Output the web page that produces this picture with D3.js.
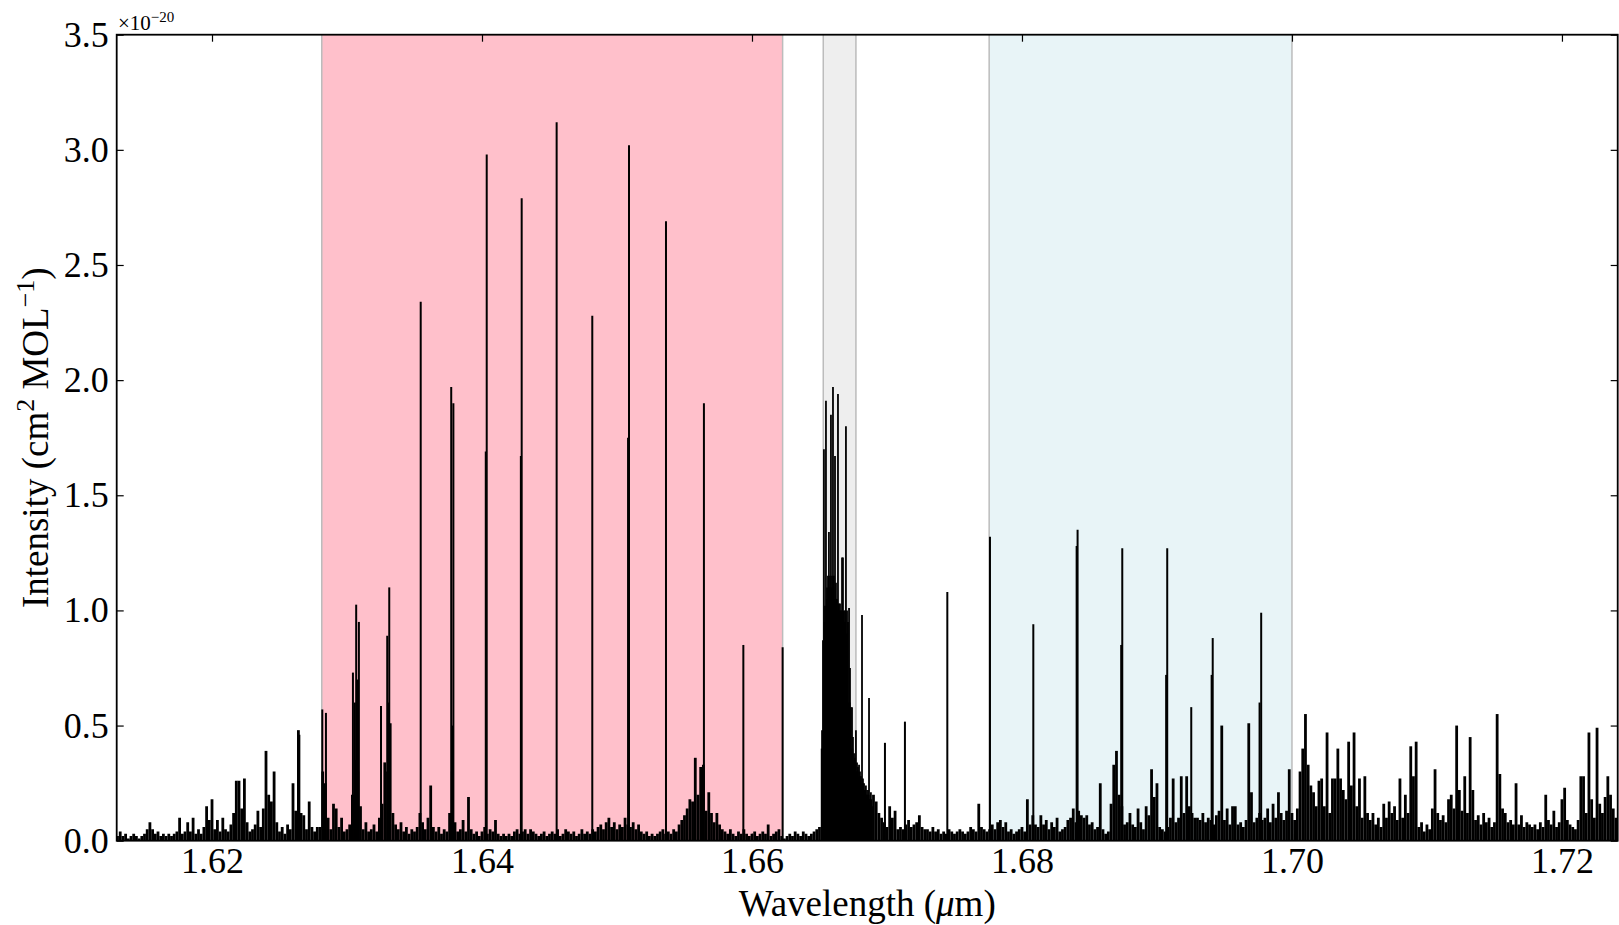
<!DOCTYPE html>
<html>
<head>
<meta charset="utf-8">
<script src="https://cdn.jsdelivr.net/npm/d3@7"></script>
<style>
  html, body { margin: 0; padding: 0; background: #ffffff; }
  svg { display: block; font-family: "Liberation Serif", "Times New Roman", serif; }
</style>
</head>
<body>
<svg id="chart" width="1619" height="925"></svg>
<script>
// ---- Axis ticks ----------------------------------------------------------
const xTickValues = [1.62, 1.64, 1.66, 1.68, 1.70, 1.72];
const yTickValues = [0, 0.5, 1.0, 1.5, 2.0, 2.5, 3.0, 3.5];

// ---- Highlighted spectral windows (micrometres) ---------------------------
const bandStart = [1.62813, 1.66528, 1.67757];
const bandEnd   = [1.66227, 1.66770, 1.70000];

// ---- Strong individual transitions (um, intensity in 1e-20 cm^2/MOL) -------
const lineWavelength = [
  1.62647, 1.62817, 1.62844, 1.63044, 1.63058, 1.63068, 1.63078, 1.63088,
  1.63252, 1.63298, 1.63305, 1.63313, 1.63546, 1.63772, 1.63780, 1.63788,
  1.64028, 1.64035, 1.64288, 1.64294, 1.64553, 1.64817, 1.65082, 1.65089,
  1.65363, 1.65644, 1.65936, 1.66227,
  1.66985, 1.67133, 1.67447, 1.67763, 1.68084, 1.68405, 1.68412, 1.68735,
  1.68743, 1.69068, 1.69076, 1.69254, 1.69405, 1.69413, 1.69760, 1.69772
];
const lineIntensity = [
  0.46, 0.57, 0.555, 0.73, 0.60, 1.025, 0.70, 0.95,
  0.585, 0.89, 0.60, 1.10, 2.34, 1.97, 0.50, 1.90,
  1.69, 2.98, 1.67, 2.79, 3.12, 2.28, 1.75, 3.02,
  2.69, 1.90, 0.85, 0.84,
  0.425, 0.517, 1.08, 1.32, 0.94, 1.28, 1.35, 0.85,
  1.27, 0.72, 1.27, 0.58, 0.72, 0.88, 0.60, 0.99
];

// ---- Dense Q-branch near 1.666 um ------------------------------------------
const qBranchWavelength = [
  1.66519, 1.66526, 1.66533, 1.66541, 1.66548, 1.66556, 1.66563, 1.66570,
  1.66578, 1.66585, 1.66593, 1.66600, 1.66607, 1.66615, 1.66622, 1.66630,
  1.66637, 1.66644, 1.66652, 1.66659, 1.66667, 1.66674, 1.66681, 1.66689,
  1.66696, 1.66704, 1.66711, 1.66719, 1.66726, 1.66733, 1.66741, 1.66748,
  1.66756, 1.66763, 1.66770, 1.66778, 1.66785, 1.66793, 1.66800, 1.66807,
  1.66815, 1.66822, 1.66830, 1.66837, 1.66844, 1.66852, 1.66859, 1.66867,
  1.66874, 1.66881, 1.66889
];
const qBranchIntensity = [
  0.48, 0.87, 1.70, 1.02, 1.91, 1.10, 1.15, 1.34,
  1.15, 1.85, 1.15, 1.97, 1.15, 1.67, 1.12, 1.05,
  1.94, 1.03, 1.03, 1.00, 1.23, 1.23, 1.00, 1.00,
  1.80, 1.00, 0.95, 1.01, 0.75, 0.58, 0.58, 0.45,
  0.38, 0.36, 0.48, 0.34, 0.32, 0.33, 0.30, 0.28,
  0.98, 0.27, 0.25, 0.22, 0.24, 0.20, 0.22, 0.62,
  0.18, 0.21, 0.15
];

// ---- Weak-line background, sampled every 0.0002 um from 1.6130 um ---------
const backgroundStart = 1.6130;
const backgroundStep = 0.0002;
const backgroundIntensity = [
  .02,.04,.02,.03,.01,.02,.03,.02,.01,.02,.03,.05,.08,.05,.03,.04,.02,.03,.02,.03,.02,.03,.04,.10,.03,
  .04,.08,.04,.10,.03,.05,.03,.06,.15,.09,.18,.05,.09,.04,.10,.05,.04,.07,.12,.26,.26,.14,.27,.08,.04,
  .05,.07,.13,.06,.14,.39,.20,.17,.30,.08,.04,.06,.03,.07,.05,.25,.13,.48,.12,.11,.05,.17,.06,.04,.06,
  .06,.30,.25,.10,.05,.16,.14,.06,.10,.04,.05,.07,.20,.35,.30,.15,.05,.08,.04,.05,.07,.04,.10,.16,.34,
  .30,.51,.12,.07,.05,.08,.04,.06,.03,.05,.04,.06,.12,.08,.05,.10,.24,.06,.04,.06,.03,.05,.04,.12,.30,
  .08,.04,.05,.09,.04,.19,.05,.03,.04,.02,.04,.06,.03,.05,.04,.09,.03,.02,.03,.02,.03,.02,.04,.05,.03,
  .04,.05,.03,.05,.04,.03,.02,.03,.04,.02,.03,.04,.03,.05,.02,.03,.05,.04,.03,.04,.02,.03,.05,.03,.04,
  .03,.05,.04,.06,.07,.05,.08,.10,.06,.08,.05,.07,.06,.10,.07,.06,.08,.05,.07,.04,.03,.04,.02,.03,.02,
  .03,.04,.05,.03,.04,.03,.05,.04,.07,.09,.11,.14,.18,.17,.36,.20,.32,.33,.13,.21,.12,.08,.12,.07,.05,
  .04,.03,.05,.03,.02,.04,.03,.05,.03,.02,.03,.04,.02,.03,.04,.03,.07,.02,.03,.04,.05,.02,.01,.02,.03,
  .02,.04,.03,.02,.04,.03,.02,.03,.04,.05,.06,.40,.95,1.05,1.10,1.10,1.05,1.00,1.00,.95,.90,.60,.40,.35,.30,
  .28,.25,.22,.20,.18,.20,.17,.12,.10,.08,.06,.15,.10,.13,.05,.06,.05,.07,.09,.06,.07,.08,.11,.06,.05,
  .05,.04,.06,.04,.05,.03,.04,.03,.05,.04,.03,.04,.05,.04,.03,.04,.06,.05,.04,.16,.06,.05,.04,.05,.07,
  .05,.08,.09,.06,.08,.04,.05,.03,.04,.05,.06,.04,.18,.07,.11,.07,.06,.11,.07,.09,.05,.08,.06,.10,.04,
  .05,.06,.09,.10,.14,.08,.13,.11,.10,.11,.07,.08,.05,.06,.25,.05,.03,.04,.16,.33,.39,.20,.15,.07,.08,
  .12,.07,.06,.14,.08,.05,.15,.11,.31,.19,.25,.06,.05,.04,.06,.10,.27,.08,.10,.28,.12,.28,.15,.12,.10,
  .10,.09,.12,.08,.10,.09,.07,.11,.13,.50,.09,.14,.07,.15,.15,.07,.08,.06,.09,.51,.21,.08,.10,.12,.09,
  .10,.14,.08,.16,.10,.21,.12,.09,.13,.31,.12,.09,.14,.30,.40,.55,.33,.24,.21,.15,.26,.27,.15,.47,.12,
  .27,.27,.40,.27,.22,.18,.43,.24,.47,.15,.27,.10,.28,.12,.09,.12,.07,.10,.06,.16,.10,.17,.12,.15,.09,
  .27,.10,.20,.12,.41,.28,.43,.06,.08,.04,.07,.05,.14,.31,.12,.09,.11,.08,.18,.20,.14,.50,.22,.13,.28,
  .12,.45,.22,.09,.11,.07,.12,.08,.10,.06,.08,.55,.29,.14,.12,.08,.09,.07,.25,.07,.11,.06,.08,.07,.06,
  .07,.05,.08,.06,.20,.09,.07,.13,.06,.08,.18,.23,.09,.07,.06,.05,.09,.28,.28,.12,.47,.18,.10,.49,.16,
  .12,.19,.28,.20,.14,.10
];

// ---- Layout -----------------------------------------------------------------
const plot = { left: 116.7, top: 34.7, right: 1617.7, bottom: 840.7 };
const bandFill = ["#ffc0cb", "#eeeeee", "#e8f4f7"];
const FONT = 36;
const LABEL_FONT = 37;

const svg = d3.select("#chart");

const x = d3.scaleLinear().domain([1.61294, 1.72413]).range([plot.left, plot.right]);
const y = d3.scaleLinear().domain([0, 3.5]).range([plot.bottom, plot.top]);

svg.append("defs").append("clipPath").attr("id", "plot-clip")
  .append("rect")
  .attr("x", plot.left).attr("y", plot.top)
  .attr("width", plot.right - plot.left).attr("height", plot.bottom - plot.top);

const inner = svg.append("g").attr("clip-path", "url(#plot-clip)");

// shaded windows
inner.selectAll("rect.band")
  .data(bandStart.map((s, i) => ({ s, e: bandEnd[i], fill: bandFill[i] })))
  .join("rect")
  .attr("class", "band")
  .attr("x", d => x(d.s))
  .attr("y", y(3.5) - 2)
  .attr("width", d => x(d.e) - x(d.s))
  .attr("height", y(0) - y(3.5) + 4)
  .attr("fill", d => d.fill)
  .attr("stroke", "#bcbcbc")
  .attr("stroke-width", 1.5);

// stick spectrum
function sticks(cls, wl, inten, width) {
  inner.append("g").attr("class", cls)
    .selectAll("line")
    .data(wl.map((w, i) => ({ w, v: inten[i] })))
    .join("line")
    .attr("x1", d => x(d.w)).attr("x2", d => x(d.w))
    .attr("y1", y(0) + 1).attr("y2", d => y(d.v))
    .attr("stroke", "#000")
    .attr("stroke-width", width);
}

const backgroundWavelength = backgroundIntensity.map((_, i) => backgroundStart + i * backgroundStep);
sticks("background", backgroundWavelength, backgroundIntensity, 2.8);
sticks("q-branch", qBranchWavelength, qBranchIntensity, 1.8);
sticks("lines", lineWavelength, lineIntensity, 2.0);

// ---- Axes: ticks pointing inward on all four sides -----------------------
const tickLen = 7;
const xFmt = d3.format(".2f");
const yFmt = d3.format(".1f");

const gBottom = svg.append("g").attr("transform", `translate(0,${plot.bottom})`)
  .call(d3.axisBottom(x).tickValues(xTickValues).tickSize(-tickLen).tickPadding(7).tickFormat(xFmt));
const gTop = svg.append("g").attr("transform", `translate(0,${plot.top})`)
  .call(d3.axisTop(x).tickValues(xTickValues).tickSize(-tickLen).tickFormat(""));
const gLeft = svg.append("g").attr("transform", `translate(${plot.left},0)`)
  .call(d3.axisLeft(y).tickValues(yTickValues).tickSize(-tickLen).tickPadding(8).tickFormat(yFmt));
const gRight = svg.append("g").attr("transform", `translate(${plot.right},0)`)
  .call(d3.axisRight(y).tickValues(yTickValues).tickSize(-tickLen).tickFormat(""));

[gBottom, gTop, gLeft, gRight].forEach(g => {
  g.select(".domain").remove();
  g.selectAll(".tick line").attr("stroke", "#000").attr("stroke-width", 1.2);
  g.selectAll(".tick text")
    .attr("fill", "#000")
    .style("font-family", '"Liberation Serif", "Times New Roman", serif')
    .style("font-size", FONT + "px");
});

// frame
svg.append("rect")
  .attr("x", plot.left).attr("y", plot.top)
  .attr("width", plot.right - plot.left).attr("height", plot.bottom - plot.top)
  .attr("fill", "none").attr("stroke", "#000").attr("stroke-width", 1.8);

// offset multiplier
const mult = svg.append("text")
  .attr("x", 118).attr("y", 30)
  .style("font-size", "21px").attr("fill", "#000");
mult.append("tspan").text("\u00d710");
mult.append("tspan").attr("dy", -8).style("font-size", "15px").text("\u221220");

// x label
const xl = svg.append("text")
  .attr("x", (plot.left + plot.right) / 2)
  .attr("y", 916)
  .attr("text-anchor", "middle")
  .style("font-size", LABEL_FONT + "px").attr("fill", "#000");
xl.append("tspan").text("Wavelength (");
xl.append("tspan").style("font-style", "italic").text("\u03bc");
xl.append("tspan").text("m)");

// y label
const yl = svg.append("text")
  .attr("transform", `translate(48,${(plot.top + plot.bottom) / 2}) rotate(-90)`)
  .attr("text-anchor", "middle")
  .style("font-size", LABEL_FONT + "px").attr("fill", "#000");
yl.append("tspan").text("Intensity (cm");
yl.append("tspan").attr("dy", -14).style("font-size", "26px").text("2");
yl.append("tspan").attr("dy", 14).text(" MOL");
yl.append("tspan").attr("dy", -14).style("font-size", "26px").text("\u22121");
yl.append("tspan").attr("dy", 14).text(")");
</script>
</body>
</html>
